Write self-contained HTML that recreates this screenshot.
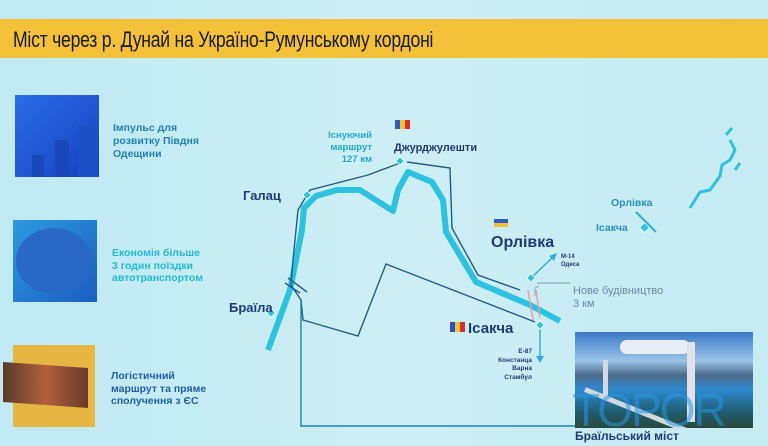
<!DOCTYPE html>
<html><head><meta charset="utf-8"><style>
html,body{margin:0;padding:0}
body{width:768px;height:446px;overflow:hidden;background:linear-gradient(90deg,#bfe9f3,#cdeef4 50%,#c6ebf3);position:relative;font-family:"Liberation Sans","DejaVu Sans",sans-serif}
.bar{position:absolute;left:0;top:19px;width:768px;height:39px;background:#f3c03a}
.title{position:absolute;left:13px;top:27px;font-size:22px;color:#1c1c1c;letter-spacing:-0.3px;transform:scaleX(0.8);transform-origin:left}
.t{position:absolute;font-weight:bold;white-space:nowrap}
</style></head><body>
<div class="bar"></div>
<div class="title">Міст через р. Дунай на Україно-Румунському кордоні</div>

<div style="position:absolute;left:15px;top:95px;width:84px;height:82px;background:linear-gradient(135deg,#2a6ee8,#1640c0)"></div>
<div style="position:absolute;left:32px;top:155px;width:12px;height:22px;background:#1a48b8"></div>
<div style="position:absolute;left:55px;top:140px;width:14px;height:37px;background:#1a48b8"></div>
<div style="position:absolute;left:78px;top:125px;width:20px;height:52px;background:#1d4fc6"></div>
<div class="t" style="left:113px;top:122px;font-size:10.5px;line-height:13px;color:#1f7fb8">Імпульс для<br>розвитку Півдня<br>Одещини</div>

<div style="position:absolute;left:13px;top:220px;width:84px;height:82px;background:linear-gradient(135deg,#2c9ae0,#1a5ec4)"></div>
<div style="position:absolute;left:16px;top:228px;width:76px;height:66px;border-radius:50%;background:#2a68c8"></div>
<div class="t" style="left:112px;top:247px;font-size:10.5px;line-height:12.5px;color:#22b8d8">Економія більше<br>3 годин поїздки<br>автотранспортом</div>

<div style="position:absolute;left:13px;top:345px;width:82px;height:82px;background:#e5b642"></div>
<div style="position:absolute;left:3px;top:365px;width:85px;height:40px;background:linear-gradient(90deg,#5a3a2a,#b0603a,#6a3a2a);transform:skewY(4deg)"></div>
<div class="t" style="left:111px;top:370px;font-size:10.5px;line-height:12.5px;color:#1f5fa8">Логістичний<br>маршрут та пряме<br>сполучення з ЄС</div>

<svg width="768" height="446" style="position:absolute;left:0;top:0">
 <polyline points="268,350 290,290 302,230 304,208 316,196 337,190 360,190 393,211 398,190 408,172 432,182 443,200 446,232 476,282 530,305 560,321" fill="none" stroke="#2cc2e0" stroke-width="6" stroke-linejoin="round"/>
 <polyline points="400,163 368,175 310,190 298,210 293,260 291,285 301,300 303,320 358,336 386,264 535,322" fill="none" stroke="#1f5d8e" stroke-width="1.4"/>
 <polyline points="407,162 450,168 452,228 478,275 520,290" fill="none" stroke="#1f5d8e" stroke-width="1.4"/>
 <polyline points="301,300 301,426 575,426" fill="none" stroke="#1f7fb8" stroke-width="1.4"/>
 <line x1="285" y1="283" x2="300" y2="293" stroke="#1f5d8e" stroke-width="1.4"/>
 <line x1="288" y1="278" x2="307" y2="292" stroke="#1f5d8e" stroke-width="1.4"/>
 <line x1="528" y1="290" x2="533" y2="320" stroke="#e8a0a0" stroke-width="1.5"/>
 <line x1="536" y1="290" x2="540" y2="318" stroke="#e8a0a0" stroke-width="1.5"/>
 <polyline points="539,286 535,288 535,296" fill="none" stroke="#90a8b8" stroke-width="1"/>
 <line x1="537" y1="283" x2="570" y2="283" stroke="#7b97b0" stroke-width="1"/>
 <line x1="531" y1="278" x2="553" y2="257" stroke="#2cb0d8" stroke-width="1.5"/>
 <polygon points="557,253 549,256 554,261" fill="#2cb0d8"/>
 <line x1="540" y1="325" x2="540" y2="358" stroke="#2cb0d8" stroke-width="1.5"/>
 <polygon points="536,356 544,356 540,363" fill="#2cb0d8"/>
 <g fill="#2cc2e0" stroke="#fff" stroke-width="0.8">
  <rect x="304" y="192" width="6" height="6" transform="rotate(45 307 195)"/>
  <rect x="397" y="158" width="6" height="6" transform="rotate(45 400 161)"/>
  <rect x="268" y="310" width="6" height="6" transform="rotate(45 271 313)"/>
  <rect x="528" y="275" width="6" height="6" transform="rotate(45 531 278)"/>
  <rect x="537" y="322" width="6" height="6" transform="rotate(45 540 325)"/>
  <rect x="641" y="224" width="7" height="7" transform="rotate(45 644.5 227.5)"/>
 </g>
 <line x1="636" y1="212" x2="656" y2="232" stroke="#2cb0d8" stroke-width="2"/>
 <path d="M690,208 L700,192 710,190 720,176 722,165 730,160 735,150 730,140 M726,135 L732,128 M735,170 L740,163" fill="none" stroke="#2cc2e0" stroke-width="3"/>
 <rect x="395" y="120" width="5" height="9" fill="#2a5bd0"/><rect x="400" y="120" width="5" height="9" fill="#f2c230"/><rect x="405" y="120" width="5" height="9" fill="#d83030"/>
 <rect x="494" y="219" width="14" height="4" fill="#2a5bd0"/><rect x="494" y="223" width="14" height="4" fill="#f2c230"/>
 <rect x="450" y="322" width="5" height="10" fill="#2a4fc8"/><rect x="455" y="322" width="5" height="10" fill="#f2c230"/><rect x="460" y="322" width="5" height="10" fill="#d83030"/>
</svg>

<div class="t" style="left:243px;top:188px;font-size:13px;color:#1d3b78">Галац</div>
<div class="t" style="left:229px;top:300px;font-size:13px;color:#1d3b78">Браїла</div>
<div class="t" style="left:394px;top:142px;font-size:11px;color:#1d3b78">Джурджулешти</div>
<div class="t" style="left:310px;top:130px;width:62px;text-align:right;font-size:9.5px;line-height:12px;color:#22a8d0">Існуючий<br>маршрут<br>127 км</div>
<div class="t" style="left:491px;top:234px;font-size:16px;color:#1d3b78">Орлівка</div>
<div class="t" style="left:468px;top:320px;font-size:15px;color:#1d3b78">Ісакча</div>
<div class="t" style="left:561px;top:253px;font-size:6px;line-height:8px;color:#1d3b78">М-14<br>Одеса</div>
<div style="position:absolute;left:573px;top:285px;font-size:11px;line-height:13px;color:#6a88a8;white-space:nowrap">Нове будівництво<br>3 км</div>
<div class="t" style="left:488px;top:348px;width:44px;text-align:right;font-size:6.5px;line-height:8.5px;color:#1d3b78">Е-87<br>Констанца<br>Варна<br>Стамбул</div>
<div class="t" style="left:611px;top:197px;font-size:10.5px;color:#2890c0">Орлівка</div>
<div class="t" style="left:596px;top:222px;font-size:10.5px;color:#2890c0">Ісакча</div>

<div style="position:absolute;left:575px;top:332px;width:178px;height:96px;background:linear-gradient(180deg,#3a78c8 0%,#9ac4e8 30%,#4a6a8a 45%,#2e8ad0 60%,#1f5a6a 85%,#2a4a3a 100%);overflow:hidden">
 <div style="position:absolute;left:45px;top:8px;width:70px;height:14px;border-radius:10px;background:#e8eef6"></div>
 <div style="position:absolute;left:112px;top:10px;width:8px;height:80px;background:#e0e0e8"></div>
 <div style="position:absolute;left:28px;top:28px;width:5px;height:40px;background:#d8d8e0"></div>
 <div style="position:absolute;left:10px;top:55px;width:170px;height:5px;background:#d0d8e0;transform:rotate(22deg);transform-origin:left"></div>
</div>
<div style="position:absolute;left:572px;top:383px;font-size:46px;color:rgba(40,150,230,0.55);letter-spacing:-2px;font-family:'Liberation Sans',sans-serif">TOPOR</div>
<div class="t" style="left:575px;top:429px;font-size:12px;color:#1d3b78">Браїльський міст</div>
</body></html>
